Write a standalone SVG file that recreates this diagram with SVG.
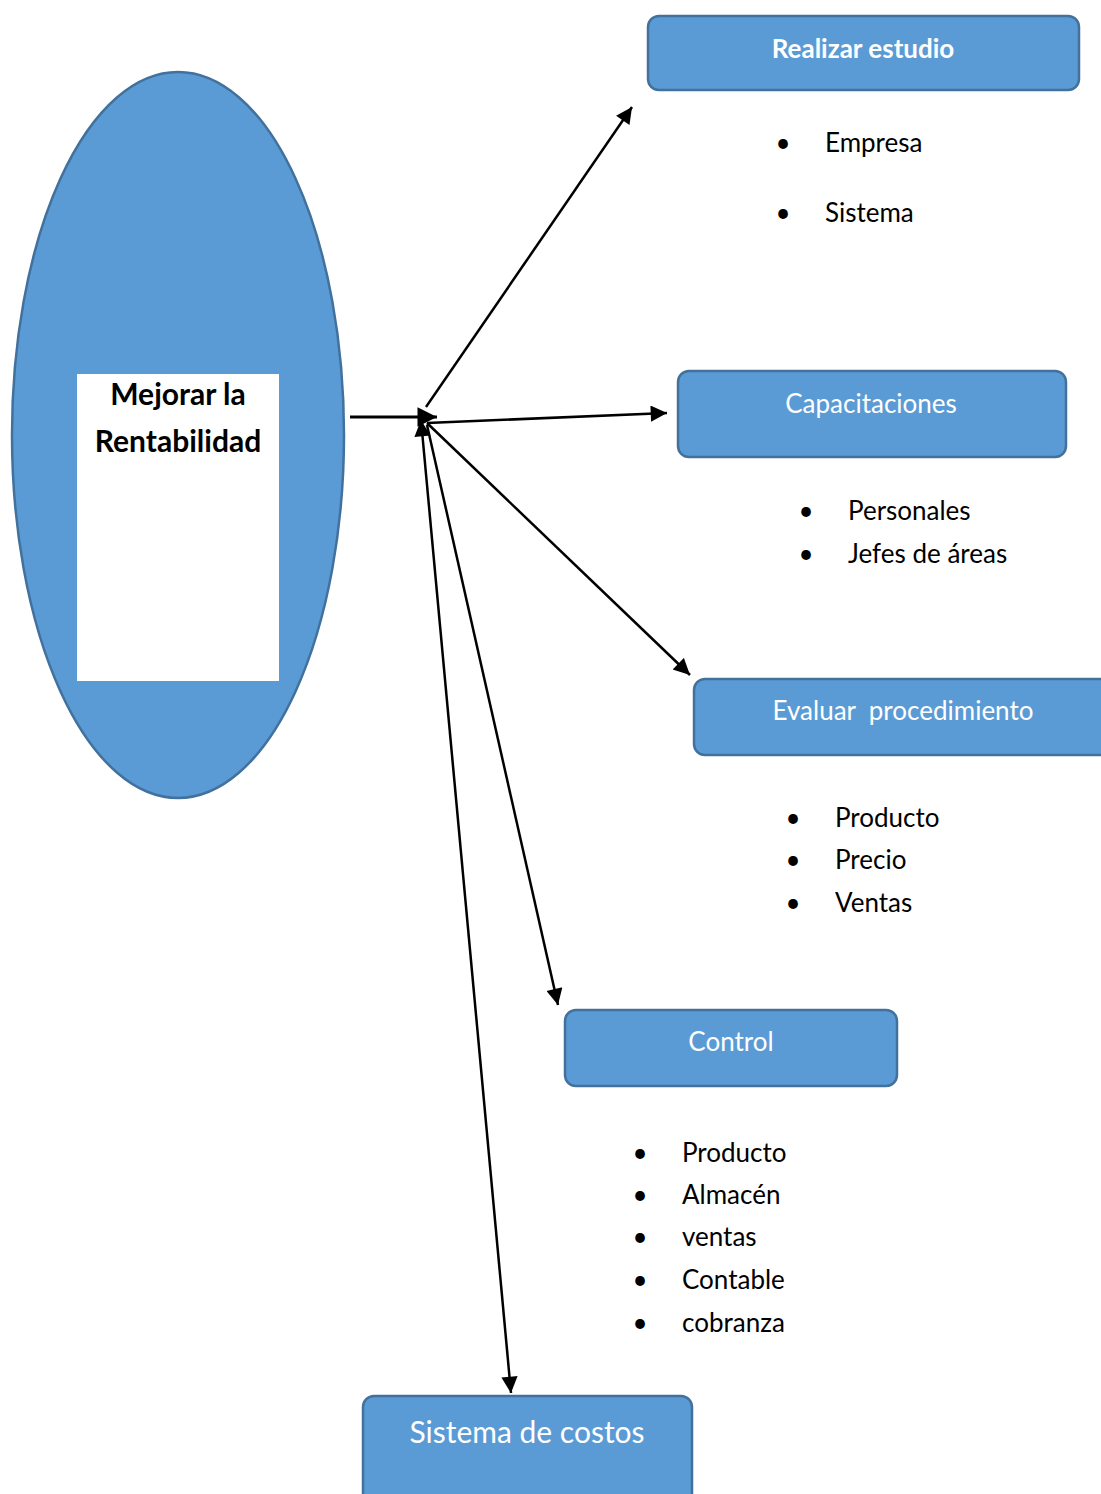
<svg xmlns="http://www.w3.org/2000/svg" width="1101" height="1494" viewBox="0 0 1101 1494">
<defs>
<marker id="ah" viewBox="0 0 10 10" refX="10" refY="5" markerWidth="7.5" markerHeight="6.5" orient="auto-start-reverse" markerUnits="strokeWidth">
<path d="M0,0 L10,5 L0,10 z" fill="#000"/>
</marker>
<style>
.box{fill:#5B9BD5;stroke:#41719C;stroke-width:2.5}
.bt{font-family:Lato,"Liberation Sans",sans-serif;fill:#fff;text-anchor:middle;font-size:26px}
.lt{font-family:Lato,"Liberation Sans",sans-serif;fill:#000;font-size:26px}
.c{stroke:#000;stroke-width:2.5;fill:none;marker-end:url(#ah)}
</style>
</defs>
<rect width="1101" height="1494" fill="#fff"/>
<g id="mejorar">
<ellipse cx="178" cy="435" rx="166" ry="363" class="box"/>
<rect x="77" y="374" width="202" height="307" fill="#fff"/>
<text x="178" y="405" class="lt" text-anchor="middle" font-weight="bold" style="font-size:30px">Mejorar la</text>
<text x="178" y="452" class="lt" text-anchor="middle" font-weight="bold" style="font-size:30px">Rentabilidad</text>
</g>
<g id="realizar">
<rect x="648" y="16" width="431" height="74" rx="11" class="box"/>
<text x="863" y="58" class="bt" font-weight="bold">Realizar estudio</text>
<text x="783" y="152" class="lt" text-anchor="middle">•</text><text x="825" y="152" class="lt">Empresa</text>
<text x="783" y="222" class="lt" text-anchor="middle">•</text><text x="825" y="222" class="lt">Sistema</text>
</g>
<g id="capacitaciones">
<rect x="678" y="371" width="388" height="86" rx="11" class="box"/>
<text x="871" y="413" class="bt">Capacitaciones</text>
<text x="806" y="520" class="lt" text-anchor="middle">•</text><text x="848" y="520" class="lt">Personales</text>
<text x="806" y="563" class="lt" text-anchor="middle">•</text><text x="848" y="563" class="lt">Jefes de áreas</text>
</g>
<g id="evaluar">
<rect x="694" y="679" width="420" height="76" rx="11" class="box"/>
<text x="903" y="720" class="bt" xml:space="preserve">Evaluar  procedimiento</text>
<text x="793" y="827" class="lt" text-anchor="middle">•</text><text x="835" y="827" class="lt">Producto</text>
<text x="793" y="869" class="lt" text-anchor="middle">•</text><text x="835" y="869" class="lt">Precio</text>
<text x="793" y="912" class="lt" text-anchor="middle">•</text><text x="835" y="912" class="lt">Ventas</text>
</g>
<g id="control">
<rect x="565" y="1010" width="332" height="76" rx="11" class="box"/>
<text x="731" y="1051" class="bt">Control</text>
<text x="640" y="1162" class="lt" text-anchor="middle">•</text><text x="682" y="1162" class="lt">Producto</text>
<text x="640" y="1204" class="lt" text-anchor="middle">•</text><text x="682" y="1204" class="lt">Almacén</text>
<text x="640" y="1246" class="lt" text-anchor="middle">•</text><text x="682" y="1246" class="lt">ventas</text>
<text x="640" y="1289" class="lt" text-anchor="middle">•</text><text x="682" y="1289" class="lt">Contable</text>
<text x="640" y="1332" class="lt" text-anchor="middle">•</text><text x="682" y="1332" class="lt">cobranza</text>
</g>
<g id="sistema">
<rect x="363" y="1396" width="329" height="110" rx="11" class="box"/>
<text x="527" y="1443" class="bt" style="font-size:30px">Sistema de costos</text>
</g>
<g id="connectors">
<line x1="350" y1="417" x2="437" y2="417" class="c" style="stroke-width:3"/>
<line x1="426" y1="407" x2="632" y2="107" class="c"/>
<line x1="427" y1="423" x2="667" y2="413" class="c"/>
<line x1="427" y1="423" x2="690" y2="675" class="c"/>
<line x1="427" y1="425" x2="558" y2="1005" class="c"/>
<line x1="421" y1="420" x2="511" y2="1393" class="c" marker-start="url(#ah)"/>
</g>
</svg>
